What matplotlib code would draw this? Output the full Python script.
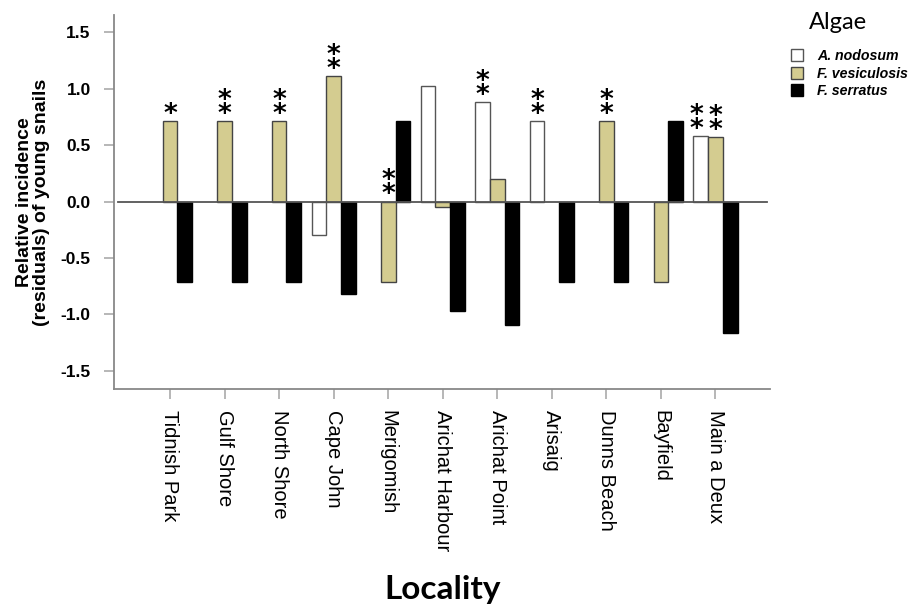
import numpy as np
import matplotlib
matplotlib.use("Agg")
import matplotlib.pyplot as plt
from matplotlib.patches import Patch

# values
localities = ["Tidnish Park", "Gulf Shore", "North Shore", "Cape John", "Merigomish",
              "Arichat Harbour", "Arichat Point", "Arisaig", "Dunns Beach", "Bayfield",
              "Main a Deux"]
series_names = ["A. nodosum", "F. vesiculosis", "F. serratus"]

nodosum = [0, 0, 0, -0.30, 0, 1.02, 0.88, 0.71, 0, 0, 0.58]
vesiculosis = [0.71, 0.71, 0.71, 1.11, -0.71, -0.05, 0.20, 0, 0.71, -0.71, 0.57]
serratus = [-0.71, -0.71, -0.71, -0.82, 0.71, -0.97, -1.09, -0.71, -0.71, 0.71, -1.16]

# significance marks: (locality index, series index, number of stars)
stars = [(0, 1, 1), (1, 1, 2), (2, 1, 2), (3, 1, 2), (4, 1, 2),
         (6, 0, 2), (7, 0, 2), (8, 1, 2), (10, 0, 2), (10, 1, 2)]

colors = ["white", "#d4cc90", "black"]
edges = ["#555555", "#444444", "black"]

plt.rcParams["font.family"] = ["Liberation Sans", "DejaVu Sans"]

fig = plt.figure(figsize=(9.17, 6.05), dpi=100)
ax = fig.add_axes([0.1247, 0.357, 0.715, 0.618])

x = np.arange(len(localities))
width = 0.27
all_vals = [nodosum, vesiculosis, serratus]
for i, vals in enumerate(all_vals):
    vals = np.array(vals)
    keep = vals != 0   # empty cells show no bar at all
    ax.bar(x[keep] + (i - 1) * width, vals[keep], width, color=colors[i],
           edgecolor=edges[i], linewidth=1.0, zorder=2)

ax.axhline(0, xmin=0.006, xmax=0.995, color="#555555", lw=1.3, zorder=3)

for loc, s, n in stars:
    v = all_vals[s][loc]
    top = max(v, 0)
    shift = -3 if (loc == 10 and s == 0) else 0
    ax.annotate("\n".join(["*"] * n), (x[loc] + (s - 1) * width, top),
                xytext=(shift, -5), textcoords="offset points", ha="center", va="bottom",
                fontsize=19, fontweight="bold", linespacing=0.4, family="DejaVu Sans")

ax.set_xlim(-1.02, 11.0)
ax.set_ylim(-1.66, 1.65)
ax.set_yticks([-1.5, -1.0, -0.5, 0.0, 0.5, 1.0, 1.5])
ax.set_yticklabels(["%.1f" % t for t in ax.get_yticks()], fontweight="bold", fontsize=12.5)
ax.set_xticks(x)
ax.set_xticklabels(localities, rotation=270, fontsize=14.5, va="top", ha="center")

for side in ["top", "right"]:
    ax.spines[side].set_visible(False)
for side in ["left", "bottom"]:
    ax.spines[side].set_color("#888888")
    ax.spines[side].set_linewidth(1.3)
ax.tick_params(axis="both", color="#aaaaaa", length=7, width=1.2)
ax.tick_params(axis="y", pad=10)
ax.tick_params(axis="x", pad=8)

ax.set_ylabel("Relative incidence\n(residuals) of young snails", fontweight="bold",
              fontsize=14, labelpad=8, linespacing=1.0)
fig.text(0.483, 0.025, "Locality", ha="center", va="center", fontsize=24,
         fontweight="bold", family="Lato")

handles = [Patch(facecolor=colors[i], edgecolor=edges[i], label=series_names[i])
           for i in range(3)]
leg = fig.legend(handles=handles, loc="upper left", bbox_to_anchor=(0.849, 0.94),
                 frameon=False, handlelength=0.85, handleheight=0.95, handletextpad=1.0,
                 labelspacing=0.25, prop={"weight": "bold", "style": "italic", "size": 10.2})
fig.text(0.914, 0.962, "Algae", ha="center", va="center", fontsize=17, family="Lato")

fig.savefig("out.png", dpi=100)
